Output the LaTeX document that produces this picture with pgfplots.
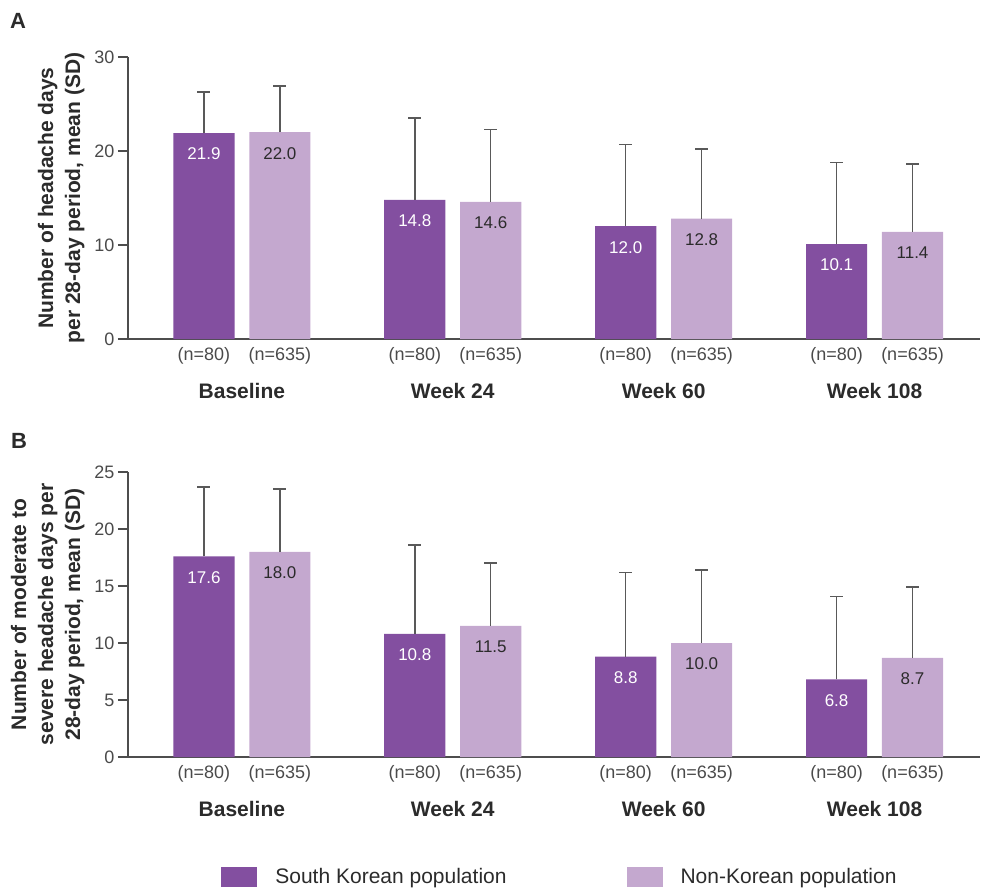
\documentclass[border=0pt]{standalone}
\usepackage{pgfplots}
\pgfplotsset{compat=1.18}
\usepackage{fontspec}
\setmainfont{Liberation Sans}
\definecolor{dk}{HTML}{834FA0}
\definecolor{lt}{HTML}{C4A8CF}
\definecolor{axg}{HTML}{4D4D4D}
\definecolor{errg}{HTML}{595959}
\definecolor{txg}{HTML}{2B2B2B}
\definecolor{tkg}{HTML}{4A4A4A}

\pgfplotsset{
  panel/.style={
    scale only axis, width=852bp,
    xmin=-0.54, xmax=3.5, ymin=0,
    axis x line=bottom, axis y line=left,
    axis line style={-, draw=axg, line width=1.2bp},
    ybar, bar width=0.29, bar shift=0pt,
    /pgf/number format/assume math mode=true,
    tick align=outside,
    ytick style={draw=axg, line width=1.2bp},
    major tick length=10bp,
    yticklabel style={font=\fontsize{18bp}{20bp}\selectfont, text=tkg},
    xtick={-0.18,0.18,0.82,1.18,1.82,2.18,2.82,3.18},
    xticklabels={(n=80),(n=635),(n=80),(n=635),(n=80),(n=635),(n=80),(n=635)},
    xtick style={draw=none},
    xticklabel style={font=\fontsize{18bp}{20bp}\selectfont, text=tkg, yshift=5bp},
    extra x ticks={0,1,2,3},
    extra x tick labels={Baseline,Week 24,Week 60,Week 108},
    extra x tick style={major tick length=0pt, xticklabel style={font=\bfseries\fontsize{21bp}{24bp}\selectfont, text=txg, yshift=-46bp}},
    ylabel style={at={(axis description cs:-0.047,0.5)}, anchor=south, align=center, font=\bfseries\fontsize{21bp}{27bp}\selectfont, text=txg},
    nodes near coords={\pgfmathprintnumber[fixed,fixed zerofill,precision=1]{\pgfplotspointmeta}},
    every node near coord/.append style={font=\fontsize{17bp}{19bp}\selectfont, anchor=center, yshift=-21bp},
    error bars/y dir=plus, error bars/y explicit,
    error bars/error bar style={draw=errg, line width=1.5bp},
    error bars/error mark options={rotate=90, mark size=6.5bp, draw=errg, line width=1.5bp},
  },
  sqlegend/.style={legend image code/.code={\fill[##1] (0bp,-10bp) rectangle (36bp,10bp);}},
}

\pgfplotstableread{
x y e
-0.18 21.9 4.4
0.82 14.8 8.7
1.82 12.0 8.7
2.82 10.1 8.7
}\Adark
\pgfplotstableread{
x y e
0.18 22.0 4.9
1.18 14.6 7.7
2.18 12.8 7.4
3.18 11.4 7.2
}\Alight
\pgfplotstableread{
x y e
-0.18 17.6 6.1
0.82 10.8 7.8
1.82 8.8 7.4
2.82 6.8 7.3
}\Bdark
\pgfplotstableread{
x y e
0.18 18.0 5.5
1.18 11.5 5.5
2.18 10.0 6.4
3.18 8.7 6.2
}\Blight

\begin{document}
\begin{tikzpicture}
\useasboundingbox (0,0) rectangle (982bp,-890bp);
\node[font=\bfseries\fontsize{22bp}{24bp}\selectfont, anchor=base west, text=txg, inner sep=0pt] at (10bp,-28bp) {A};
\node[font=\bfseries\fontsize{22bp}{24bp}\selectfont, anchor=base west, text=txg, inner sep=0pt] at (11bp,-448bp) {B};

\begin{axis}[panel, at={(128bp,-339bp)}, anchor=south west, height=282bp,
  ymax=30, ytick={0,10,20,30},
  ylabel={Number of headache days\\per 28-day period, mean (SD)}]
\addplot[fill=dk, draw=none, every node near coord/.append style={text=white}]
  table[x=x, y=y, y error=e] {\Adark};
\addplot[fill=lt, draw=none, every node near coord/.append style={text=txg}]
  table[x=x, y=y, y error=e] {\Alight};
\end{axis}

\begin{axis}[panel, at={(128bp,-757bp)}, anchor=south west, height=285bp,
  ymax=25, ytick={0,5,10,15,20,25},
  ylabel={Number of moderate to\\severe headache days per\\28-day period, mean (SD)},
  legend style={at={(0.507,-0.421)}, anchor=center, draw=none, fill=none, legend columns=2,
    font=\fontsize{21bp}{23bp}\selectfont, text=txg,
    /tikz/every odd column/.append style={column sep=16bp},
    /tikz/every even column/.append style={column sep=118bp}},
  legend cell align=left]
\addplot[fill=dk, draw=none, every node near coord/.append style={text=white}, sqlegend]
  table[x=x, y=y, y error=e] {\Bdark};
\addlegendentry{South Korean population}
\addplot[fill=lt, draw=none, every node near coord/.append style={text=txg}, sqlegend]
  table[x=x, y=y, y error=e] {\Blight};
\addlegendentry{Non-Korean population}
\end{axis}
\end{tikzpicture}
\end{document}
